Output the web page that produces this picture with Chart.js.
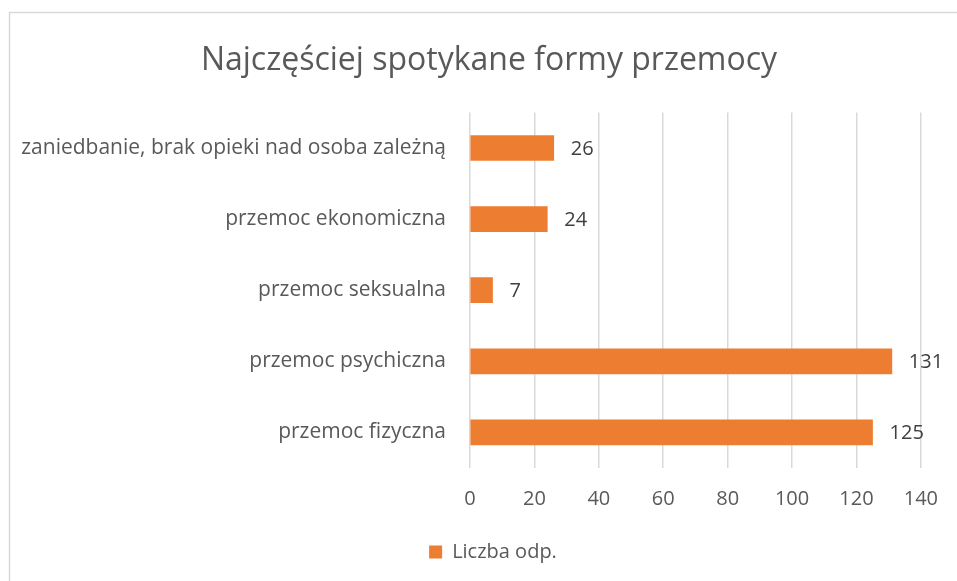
<!DOCTYPE html>
<html>
<head>
<meta charset="utf-8">
<script src="https://cdn.jsdelivr.net/npm/chart.js@4"></script>
<style>
  html, body { margin: 0; padding: 0; background: #fff; }
  canvas { display: block; }
</style>
</head>
<body>
<canvas id="chart" width="957" height="581"></canvas>
<script>
// chart data
const categories = [
  'zaniedbanie, brak opieki nad osoba zależną',
  'przemoc ekonomiczna',
  'przemoc seksualna',
  'przemoc psychiczna',
  'przemoc fizyczna'
];
const answers = [26, 24, 7, 131, 125];
const xTicks = [0, 20, 40, 60, 80, 100, 120, 140];

const FONT = '"Open Sans"';
const ORANGE = '#ED7D31';

// outer frame like the office chart border
const framePlugin = {
  id: 'frame',
  beforeDraw(chart) {
    const c = chart.ctx;
    c.save();
    c.fillStyle = '#fff';
    c.fillRect(0, 0, chart.width, chart.height);
    c.strokeStyle = '#d9d9d9';
    c.lineWidth = 1.5;
    c.strokeRect(9.5, 12.5, 1200, 1200);
    c.restore();
  }
};

// title and legend sit a bit right of the page centre in the original
const nudge = {
  id: 'nudge',
  afterLayout(chart) {
    const shift = (box, dx) => { if (box) { box.left += dx; box.right += dx; } };
    shift(chart.titleBlock, 24);
    shift(chart.legend, 28);
  }
};

// value labels at the end of each bar
const valueLabels = {
  id: 'valueLabels',
  afterDatasetsDraw(chart) {
    const c = chart.ctx;
    const meta = chart.getDatasetMeta(0);
    c.save();
    c.font = '20px ' + FONT;
    c.fillStyle = '#404040';
    c.textAlign = 'left';
    c.textBaseline = 'middle';
    meta.data.forEach((bar, i) => {
      c.fillText(String(answers[i]), bar.x + 17, bar.y + 1);
    });
    c.restore();
  }
};

new Chart(document.getElementById('chart').getContext('2d'), {
  type: 'bar',
  data: {
    labels: categories,
    datasets: [{
      label: 'Liczba odp.',
      data: answers,
      backgroundColor: ORANGE,
      borderWidth: 0,
      barThickness: 25
    }]
  },
  options: {
    indexAxis: 'y',
    responsive: false,
    animation: false,
    layout: { padding: { left: 8, right: 35, top: 30, bottom: 9 } },
    scales: {
      x: {
        min: 0,
        max: 140,
        afterBuildTicks(scale) { scale.ticks = xTicks.map(v => ({ value: v })); },
        afterFit(scale) { scale.height = 64; },
        grid: { color: '#d9d9d9', lineWidth: 1.5, drawTicks: false },
        border: { display: false },
        ticks: { padding: 19, color: '#595959', font: { family: FONT, size: 20 } }
      },
      y: {
        afterFit(scale) { scale.width = 462; },
        grid: { display: false },
        border: { display: false },
        ticks: { padding: 16, color: '#595959', font: { family: FONT, size: 21 } }
      }
    },
    plugins: {
      title: {
        display: true,
        text: 'Najczęściej spotykane formy przemocy',
        color: '#595959',
        font: { family: FONT, size: 32, weight: 'normal' },
        padding: { top: 12, bottom: 32 }
      },
      legend: {
        position: 'bottom',
        labels: {
          boxWidth: 13,
          boxHeight: 13,
          padding: 10,
          color: '#595959',
          font: { family: FONT, size: 20 }
        }
      },
      tooltip: { enabled: false }
    }
  },
  plugins: [framePlugin, nudge, valueLabels]
});
</script>
</body>
</html>
